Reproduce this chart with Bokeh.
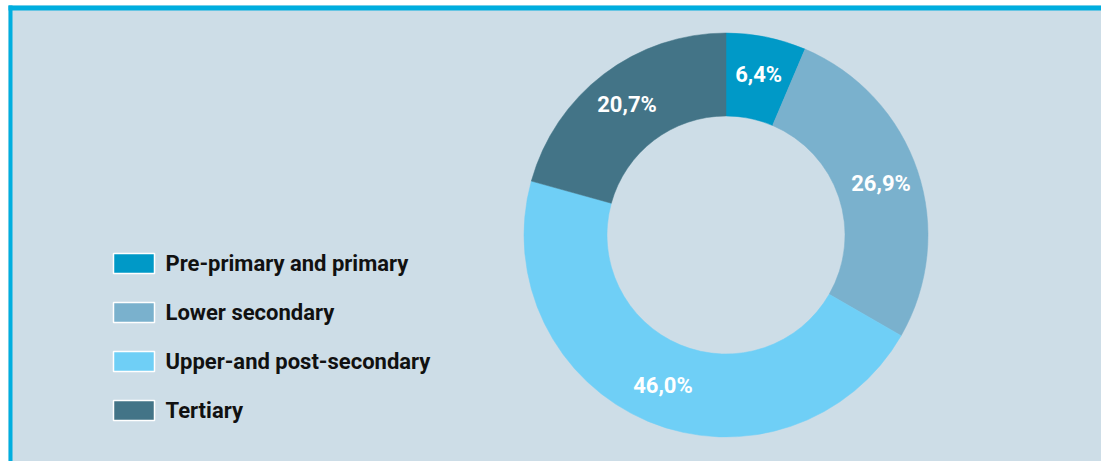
import numpy as np
from bokeh.plotting import figure
from bokeh.models import Range1d, ColumnDataSource
from bokeh.core.properties import value
from bokeh.embed import file_html
from bokeh.resources import INLINE

categories = ["Pre-primary and primary", "Lower secondary", "Upper-and post-secondary", "Tertiary"]
shares = [6.4, 26.9, 46.0, 20.7]
share_labels = ["6,4%", "26,9%", "46,0%", "20,7%"]
colors = ["#0099C7", "#7AB1CD", "#6FCFF6", "#437487"]

W, H = 1101, 461
FONT = "Roboto"

p = figure(width=W, height=H, output_backend="svg", toolbar_location=None,
           x_range=Range1d(0, W), y_range=Range1d(0, H), min_border=0)
p.axis.visible = False
p.grid.visible = False
p.outline_line_color = None
p.background_fill_color = "white"
p.border_fill_color = "white"

# panel background and frame lines (top and left)
p.quad(left=8, right=W, bottom=0, top=H - 5, fill_color="#CDDDE7", line_color=None)
p.quad(left=8, right=W, bottom=H - 10, top=H - 5, fill_color="#00AEDF", line_color=None)
p.quad(left=8, right=12, bottom=0, top=H - 5, fill_color="#00AEDF", line_color=None)

cx, cy = 725.5, 226.5
r_in, r_out = 119, 202

total = sum(shares)
frac = np.array(shares) / total
cum = np.concatenate([[0], np.cumsum(frac)])
start = np.pi / 2 - 2 * np.pi * cum[:-1]
end = np.pi / 2 - 2 * np.pi * cum[1:]
mid = (start + end) / 2
r_mid = (r_in + r_out) / 2 + 3

src = ColumnDataSource(dict(start=start, end=end, color=colors, cat=categories,
                            lx=cx + r_mid * np.cos(mid), ly=cy + r_mid * np.sin(mid),
                            lab=share_labels))
p.annular_wedge(x=cx, y=cy, inner_radius=r_in, outer_radius=r_out,
                start_angle="start", end_angle="end", direction="clock",
                fill_color="color", line_color="color", line_width=0.5, source=src)
p.text(x="lx", y="ly", text="lab", source=src, text_color="white",
       text_font=value(FONT), text_font_style="bold", text_font_size="22px",
       text_align="center", text_baseline="middle")

# legend
n = len(categories)
ys = [198 - 49 * i for i in range(n)]
leg = ColumnDataSource(dict(y=ys, color=colors, cat=categories))
p.rect(x=133.5, y="y", width=41, height=20, fill_color="color", line_color="white",
       line_width=1.5, source=leg)
p.text(x=165, y="y", text="cat", source=leg, text_color="#111111",
       text_font=value(FONT), text_font_style="bold", text_font_size="22px",
       text_align="left", text_baseline="middle")

open("out.html", "w").write(file_html(p, INLINE))
